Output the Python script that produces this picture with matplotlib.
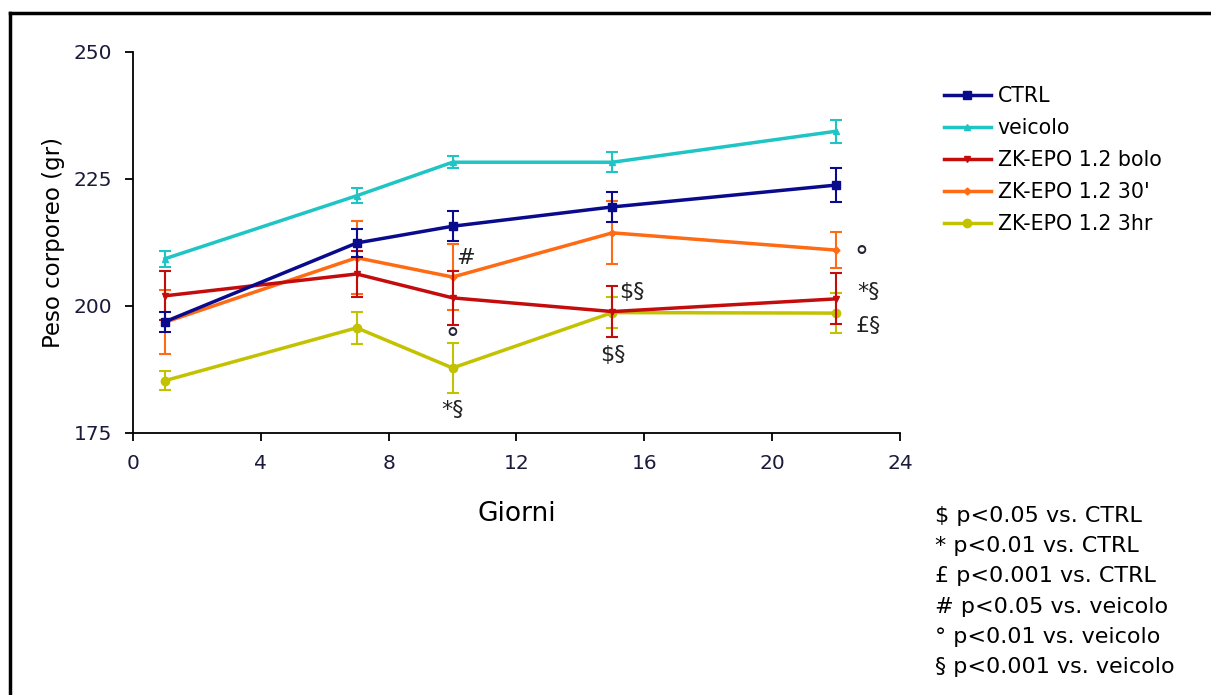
import matplotlib
matplotlib.use("Agg")
import matplotlib.pyplot as plt
from matplotlib.lines import Line2D

# Dati
giorni = [1, 7, 10, 15, 22]

ctrl = [196.9, 212.4, 215.7, 219.5, 223.8]
ctrl_err = [2.0, 2.7, 3.0, 3.0, 3.4]

veicolo = [209.3, 221.7, 228.3, 228.3, 234.4]
veicolo_err = [1.6, 1.5, 1.2, 2.0, 2.3]

bolo = [202.0, 206.3, 201.6, 198.9, 201.4]
bolo_err = [4.8, 4.6, 5.3, 5.0, 5.0]

epo_30 = [196.8, 209.5, 205.7, 214.4, 211.0]
epo_30_err = [6.3, 7.2, 6.5, 6.2, 3.6]

epo_3hr = [185.3, 195.7, 187.8, 198.7, 198.6]
epo_3hr_err = [1.9, 3.1, 5.0, 3.0, 4.0]

etichette = ["CTRL", "veicolo", "ZK-EPO 1.2 bolo", "ZK-EPO 1.2 30'", "ZK-EPO 1.2 3hr"]

# annotazioni di significatività (x, y, testo)
annot_x = [10.42, 15.6, 15.0, 10.0, 23.0, 23.0]
annot_y = [209.4, 202.8, 190.4, 179.5, 202.7, 196.0]
annot_txt = ["#", "$§", "$§", "*§", "*§", "£§"]
# i cerchietti (°) hanno la linea di base più in basso
gradi_x = [10.0, 22.78]
gradi_y = [191.8, 207.8]

note = ["$ p<0.05 vs. CTRL", "* p<0.01 vs. CTRL", "£ p<0.001 vs. CTRL",
        "# p<0.05 vs. veicolo", "° p<0.01 vs. veicolo", "§ p<0.001 vs. veicolo"]

plt.rcParams['font.family'] = ['DejaVu Sans']

fig = plt.figure(figsize=(12.11, 6.95), dpi=100)
ax = fig.add_axes([0.1098, 0.377, 0.6334, 0.5482])

serie = [
    (ctrl, ctrl_err, '#0a0a8c', 's', 6, 6),
    (veicolo, veicolo_err, '#1fc4c4', '^', 5, 2),
    (bolo, bolo_err, '#c40c0c', 'v', 5, 4),
    (epo_30, epo_30_err, '#ff6a14', 'D', 3.5, 3),
    (epo_3hr, epo_3hr_err, '#c2c200', 'o', 6, 1),
]

handles = []
for (vals, errs, col, mk, ms, z), lab in zip(serie, etichette):
    cont = ax.errorbar(giorni, vals, yerr=errs, color=col, marker=mk, markersize=ms,
                       linewidth=2.5, elinewidth=1.5, capsize=4, capthick=1.5,
                       label=lab, zorder=z)
    handles.append(cont.lines[0])

for x, y, t in zip(annot_x, annot_y, annot_txt):
    ax.text(x, y, t, fontsize=16, color='#222222', ha='center', va='center')
for x, y in zip(gradi_x, gradi_y):
    ax.text(x, y, "°", fontsize=20, color='#222233', ha='center', va='baseline')

ax.set_xlim(0, 24)
ax.set_ylim(175, 250)
ax.set_xticks(range(0, 25, 4))
ax.set_yticks([175, 200, 225, 250])
ax.spines['top'].set_visible(False)
ax.spines['right'].set_visible(False)
ax.spines['left'].set_linewidth(1.3)
ax.spines['bottom'].set_linewidth(1.3)
ax.tick_params(axis='both', direction='out', length=6, width=1.3, labelsize=14.5,
               labelcolor='#1a1a3a')
ax.tick_params(axis='y', pad=9)
ax.tick_params(axis='x', pad=9)
ax.set_xlabel('Giorni', fontsize=19, labelpad=20)
ax.set_ylabel('Peso corporeo (gr)', fontsize=16.5, labelpad=6)

fig.legend(handles, etichette, loc='upper left', bbox_to_anchor=(0.773, 0.888),
           frameon=False, fontsize=14.8, handlelength=2.25, handletextpad=0.35,
           labelspacing=0.58, borderaxespad=0)

fig.text(0.772, 0.272, "\n".join(note), fontsize=16, va='top', ha='left',
         linespacing=1.64)

# cornice dello screenshot (solo sinistra e alto)
fig.add_artist(Line2D([10.5 / 1211, 10.5 / 1211], [0, 1 - 12.5 / 695],
                      transform=fig.transFigure, color='black', linewidth=2.5))
fig.add_artist(Line2D([10.5 / 1211, 1], [1 - 12.5 / 695, 1 - 12.5 / 695],
                      transform=fig.transFigure, color='black', linewidth=2.5))

fig.savefig('out.png', dpi=100)
